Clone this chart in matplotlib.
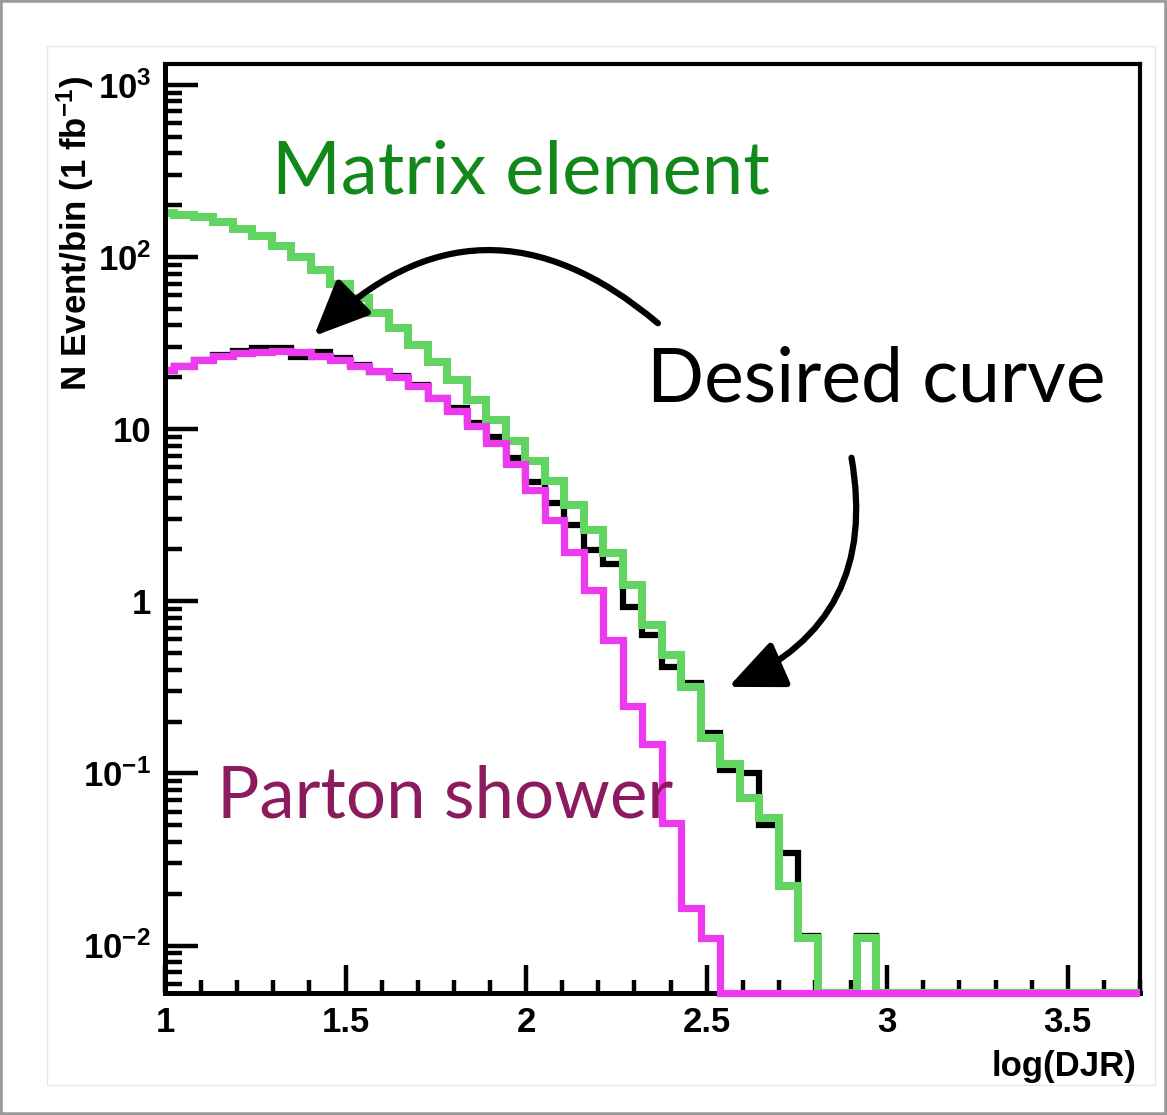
import numpy as np
import matplotlib
matplotlib.use("Agg")
import matplotlib.pyplot as plt
from matplotlib.patches import FancyArrowPatch, Rectangle
from matplotlib.ticker import FixedLocator, NullFormatter

# ---- data: histogram bin edges (bin width 0.054) and per-bin contents ----
bin_width = 0.054
first_bin = 18          # first edge = 18 * 0.054 = 0.972
n_bins = 52

matrix_element = [180, 175, 171, 160, 146, 133, 116, 100, 84, 69.6,
                  57.8, 47.2, 38.6, 30.8, 24.5, 19.3, 14.8, 11.3, 8.5, 6.5,
                  4.99, 3.62, 2.59, 1.90, 1.24, 0.725, 0.485, 0.316, 0.160, 0.114,
                  0.0716, 0.0547, 0.0223, 0.011, 0, 0, 0.011, 0, 0, 0,
                  0, 0, 0, 0, 0, 0, 0, 0, 0, 0, 0, 0]

parton_shower = [22.0, 23.2, 25.2, 26.6, 27.7, 28.0, 28.4, 28.0, 26.6, 25.2,
                 23.2, 21.7, 20.0, 17.8, 15.1, 12.7, 10.4, 8.3, 6.27, 4.42,
                 2.96, 1.93, 1.16, 0.593, 0.245, 0.149, 0.0512, 0.0166, 0.0111, 0,
                 0, 0, 0, 0, 0, 0, 0, 0, 0, 0,
                 0, 0, 0, 0, 0, 0, 0, 0, 0, 0, 0, 0]

desired = [22.0, 23.2, 25.2, 26.9, 28.4, 29.6, 29.6, 26.2, 28.0, 25.9,
           23.6, 21.4, 20.3, 18.0, 15.1, 13.3, 10.8, 8.98, 6.78, 4.92,
           3.72, 2.77, 1.98, 1.64, 0.923, 0.634, 0.413, 0.334, 0.171, 0.104,
           0.100, 0.0499, 0.0343, 0.0114, 0, 0, 0.0114, 0, 0, 0,
           0, 0, 0, 0, 0, 0, 0, 0, 0, 0, 0, 0]

x_ticks_major = [1, 1.5, 2, 2.5, 3, 3.5]
x_tick_labels = ["1", "1.5", "2", "2.5", "3", "3.5"]
y_ticks_major = [1e-2, 1e-1, 1, 10, 1e2, 1e3]
y_tick_labels = [r"$\mathregular{10^{-2}}$", r"$\mathregular{10^{-1}}$", "1", "10",
                 r"$\mathregular{10^{2}}$", r"$\mathregular{10^{3}}$"]

XMIN, XMAX = 1.0, 3.7
YMIN, YMAX = 0.0053, 1320

W, H = 1167, 1115
fig = plt.figure(figsize=(W / 100, H / 100), dpi=100)
fig.patch.set_facecolor("white")

def fx(px):
    return px / W

def fy(py):
    return 1 - py / H

# slide frame decoration (behind everything)
fig.patches.append(Rectangle((fx(47), fy(1085)), fx(1155) - fx(47), fy(46) - fy(1085),
                             transform=fig.transFigure, facecolor="none",
                             edgecolor="#e6e6e6", lw=1.0, zorder=-5))

ax = fig.add_axes([fx(165), fy(993), fx(1140) - fx(165), fy(64) - fy(993)])
ax.set_xlim(XMIN, XMAX)
ax.set_yscale("log")
ax.set_ylim(YMIN, YMAX)

edges = np.arange(first_bin, first_bin + n_bins + 1) * bin_width

def draw_hist(vals, color, lw, z):
    v = np.asarray(vals, dtype=float)
    v = np.where(v > 0, v, YMIN)
    art = ax.stairs(v, edges, baseline=None, color=color, lw=lw, zorder=z)
    clip = Rectangle((0, -0.02), 1.0, 1.04, transform=ax.transAxes)
    art.set_clip_path(clip)
    return art

draw_hist(desired, "black", 4.5, 3)
draw_hist(matrix_element, "#62d462", 5.8, 4)
draw_hist(parton_shower, "#ee3aee", 5.2, 5)

for s in ["left", "bottom"]:
    ax.spines[s].set_linewidth(3.6)
ax.spines["left"].set_zorder(6)
ax.spines["bottom"].set_zorder(2.5)
for s in ["top", "right"]:
    ax.spines[s].set_linewidth(3.0)

ax.xaxis.set_major_locator(FixedLocator(x_ticks_major))
ax.xaxis.set_minor_locator(FixedLocator(np.round(np.arange(1.0, 3.71, 0.1), 2)))
ax.set_xticklabels(x_tick_labels)
ax.yaxis.set_major_locator(FixedLocator(y_ticks_major))
minors = [m * 10.0 ** e for e in range(-3, 4) for m in range(2, 10)]
ax.yaxis.set_minor_locator(FixedLocator(minors))
ax.yaxis.set_minor_formatter(NullFormatter())
ax.set_yticklabels(y_tick_labels)

label_font = ["Liberation Sans Narrow", "Liberation Sans", "DejaVu Sans"]
ax.tick_params(axis="x", which="major", direction="in", length=20, width=3.2,
               top=False, pad=9, labelsize=25)
ax.tick_params(axis="x", which="minor", direction="in", length=9.5, width=3.2, top=False)
ax.tick_params(axis="y", which="major", direction="in", length=24, width=3.2,
               right=False, pad=10, labelsize=25)
ax.tick_params(axis="y", which="minor", direction="in", length=12, width=3.2, right=False)
for lab in ax.get_xticklabels() + ax.get_yticklabels():
    lab.set_family(label_font)
    lab.set_fontweight("bold")

fig.text(fx(75), fy(76), r"N Event/bin (1 fb$\mathregular{^{-1}}$)", rotation=90,
         ha="center", va="top", fontsize=25, family=label_font, fontweight="bold")
fig.text(fx(1136), fy(1076), "log(DJR)", ha="right", va="baseline",
         fontsize=25, family=label_font, fontweight="bold")

# annotations
ann_font = ["Lato", "DejaVu Sans"]
fig.text(fx(272), fy(193), "Matrix element", color="#12881a", fontsize=53.5,
         family=ann_font, ha="left", va="baseline")
fig.text(fx(647), fy(402), "Desired curve", color="black", fontsize=54,
         family=ann_font, ha="left", va="baseline")
fig.text(fx(217), fy(818), "Parton shower", color="#8c1a5e", fontsize=51,
         family=ann_font, ha="left", va="baseline", zorder=2)

arr1 = FancyArrowPatch((fx(660), fy(325)), (fx(312), fy(338)),
                       transform=fig.transFigure,
                       connectionstyle="arc3,rad=0.46",
                       arrowstyle="-|>,head_length=34,head_width=15",
                       color="black", lw=4.5, zorder=12)
arr2 = FancyArrowPatch((fx(851), fy(455)), (fx(726), fy(688)),
                       transform=fig.transFigure,
                       connectionstyle="arc3,rad=-0.4",
                       arrowstyle="-|>,head_length=34,head_width=15",
                       color="black", lw=4.5, zorder=12)
fig.patches.append(arr1)
fig.patches.append(arr2)

fig.patches.append(Rectangle((0, 0), 1, 1, transform=fig.transFigure, facecolor="none",
                             edgecolor="#9a9a9a", lw=4, zorder=13))

fig.savefig("out.png", dpi=100, facecolor="white")
